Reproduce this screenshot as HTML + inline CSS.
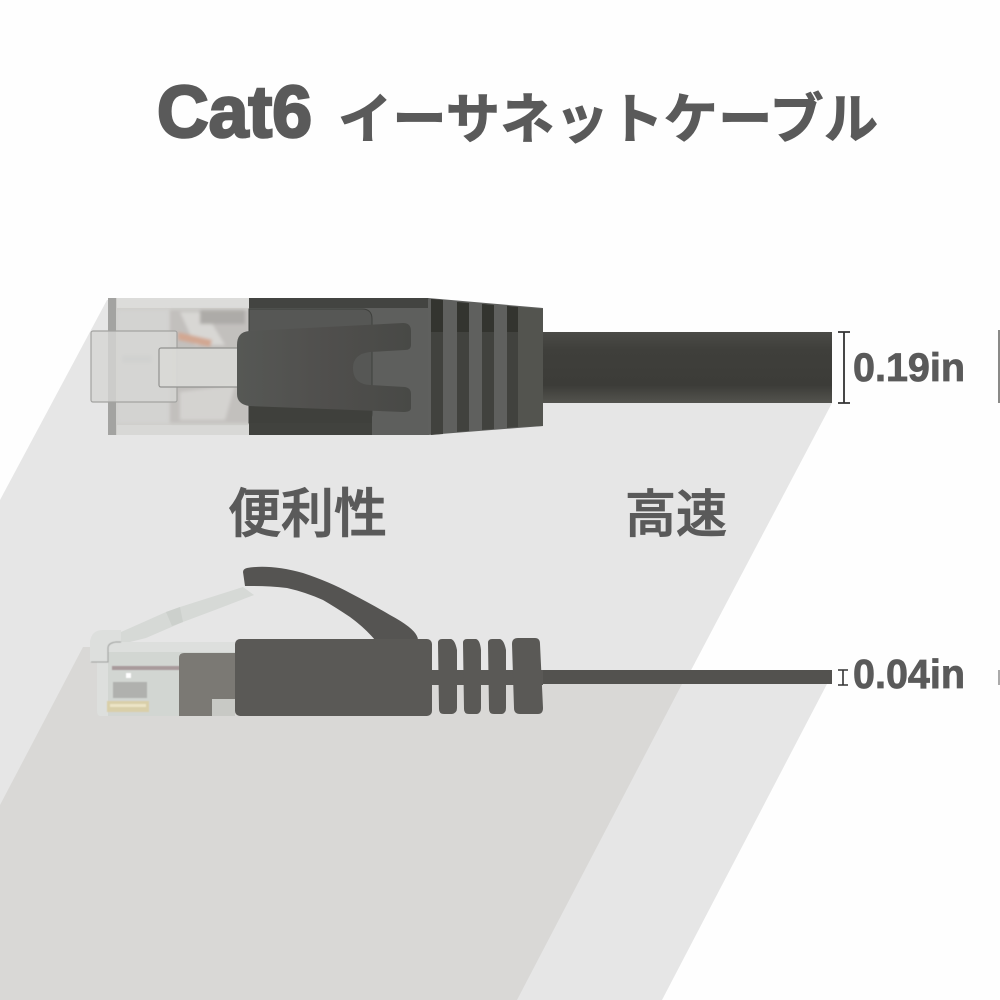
<!DOCTYPE html>
<html lang="ja"><head><meta charset="utf-8"><style>
html,body{margin:0;padding:0;background:#fff}
svg{display:block}
text{font-family:"Liberation Sans","Noto Sans CJK JP",sans-serif;fill:#5a5a5a}
</style></head><body>
<svg xmlns="http://www.w3.org/2000/svg" width="1000" height="1000" viewBox="0 0 1000 1000">
<defs>
<linearGradient id="cab" x1="0" y1="0" x2="0" y2="1"><stop offset="0" stop-color="#4b4b47"/><stop offset=".25" stop-color="#3f3f3b"/><stop offset=".75" stop-color="#3c3c38"/><stop offset="1" stop-color="#53534e"/></linearGradient>
<linearGradient id="lat" x1="0" y1="0" x2="1" y2="0"><stop offset="0" stop-color="#565855"/><stop offset=".5" stop-color="#504f4d"/><stop offset="1" stop-color="#484946"/></linearGradient>
<filter id="b1"><feGaussianBlur stdDeviation="1.6"/></filter>
<filter id="b0"><feGaussianBlur stdDeviation=".5"/></filter>
</defs>
<rect width="1000" height="1000" fill="#fefefe"/>
<polygon points="107,300 420,300 420,403 832,403 517,1000 0,1000 0,500" fill="#e6e6e6"/>
<polygon points="83,647 110,647 110,684 827,684 662,1000 0,1000 0,805" fill="#e6e6e6"/>
<polygon points="83,647 110,647 110,684 682,684 517,1000 0,1000 0,805" fill="#d9d8d6"/>
<rect x="998" y="330" width="2" height="73" fill="#8a8a88"/>
<rect x="998" y="670" width="2" height="15" fill="#aaa"/>

<!-- title -->
<text x="157" y="137" font-size="73" font-weight="700" stroke="#5a5a5a" stroke-width="2.6" textLength="155" lengthAdjust="spacingAndGlyphs">Cat6</text>
<text x="338" y="138" font-size="54" font-weight="700" stroke="#5a5a5a" stroke-width="1" textLength="540" lengthAdjust="spacing">イーサネットケーブル</text>
<text x="228" y="532" font-size="53" font-weight="500" stroke="#5a5a5a" stroke-width="1" textLength="159" lengthAdjust="spacing">便利性</text>
<text x="625" y="532" font-size="51" font-weight="500" stroke="#5a5a5a" stroke-width="1" textLength="102" lengthAdjust="spacing">高速</text>

<!-- top cable -->
<rect x="540" y="332" width="292" height="71" fill="url(#cab)"/>
<!-- clear plug top -->
<rect x="108" y="298" width="142" height="137" fill="#cfcecb"/>
<rect x="117" y="298" width="133" height="10" fill="#dcdcda"/>
<rect x="117" y="425" width="133" height="10" fill="#d8d8d6"/>
<g filter="url(#b1)">
<rect x="117" y="310" width="52" height="113" fill="#d3d3d1"/>
<rect x="170" y="310" width="79" height="113" fill="#c2c0bd"/>
<polygon points="180,312 205,312 225,345 195,345" fill="#d8d7d4"/>
<polygon points="180,392 235,385 225,420 180,420" fill="#d4d3d0"/>
<rect x="200" y="310" width="45" height="14" fill="#adaba8"/>
<polygon points="178,332 212,340 210,347 178,340" fill="#d2a792"/>
<rect x="122" y="355" width="30" height="8" fill="#b9bdc2"/>
</g>
<rect x="108" y="298" width="8" height="137" fill="#a3a3a1"/>
<rect x="91" y="331" width="86" height="71" rx="2" fill="#d5d5d3" fill-opacity=".82" stroke="#a3a3a1" stroke-width="1.2"/>
<rect x="159" y="348" width="80" height="39" rx="2" fill="#d9d9d6" fill-opacity=".92" stroke="#929290" stroke-width="1.2"/>
<!-- boot top -->
<rect x="249" y="298" width="180" height="137" fill="#5e5f5d"/>
<rect x="249" y="298" width="180" height="10" fill="#434441"/>
<path d="M249,309H362Q372,309 372,319V413Q372,423 362,423H249Z" fill="#565755" stroke="#3f403d" stroke-width="1"/>
<rect x="249" y="405" width="123" height="18" fill="#3f403c"/>
<path d="M249,423H372V435H249Z" fill="#41423e"/>
<polygon points="428,298 543,308 543,426 428,435" fill="#5f605e"/>
<g fill="#41423e">
<polygon points="431,299 443,300 443,434 431,435"/>
<polygon points="457,302 469,303 469,431 457,432"/>
<polygon points="482,304 494,305 494,429 482,430"/>
<polygon points="507,306 518,307 518,427 507,428"/>
</g>
<g fill="#33342f">
<polygon points="431,299 443,300 443,332 431,332"/>
<polygon points="457,302 469,303 469,332 457,332"/>
<polygon points="482,304 494,305 494,332 482,332"/>
<polygon points="507,306 518,307 518,332 507,332"/>
</g>
<path d="M518,307L543,309V426L518,427Z" fill="#53544f"/>
<path d="M237,345Q237,332 249,331L403,323Q411,323 411,331V345Q411,350 405,350L370,352Q353,354 353,368Q353,384 370,385L405,387Q411,388 411,394V408Q411,412 403,412L249,406Q237,404 237,394Z" fill="url(#lat)"/>

<!-- dim 1 -->
<path d="M844,332V403M838,332H850M838,403H850" fill="none" stroke="#333" stroke-width="1.8"/>
<text x="853" y="381" font-size="40" font-weight="700" stroke="#5a5a5a" stroke-width=".8" textLength="112" lengthAdjust="spacingAndGlyphs">0.19in</text>

<!-- bottom cable -->
<rect x="540" y="670" width="292" height="14" fill="#53524f"/>
<path d="M843,670V685M838,685H848M838,670H848" fill="none" stroke="#333" stroke-width="1.6"/>
<text x="853" y="688" font-size="41" font-weight="700" stroke="#5a5a5a" stroke-width=".8" textLength="112" lengthAdjust="spacingAndGlyphs">0.04in</text>

<!-- clear plug bottom -->
<path d="M90,641Q92,630 103,630H121V642H235V716H100Q97,716 97,710V662H90Z" fill="#dddfdd"/>
<rect x="108" y="652" width="127" height="64" fill="#cfd3d0" opacity=".8"/>
<polygon points="121,632 166,612 180,607 243,587 254,595 215,610 183,622 146,638 130,642 121,642" fill="#d6d9d6"/>
<polygon points="166,612 180,607 183,622 172,626" fill="#ccd0cc"/>
<g filter="url(#b0)">
<path d="M91,662H108V648Q108,643 116,642H121" fill="none" stroke="#9ea09e" stroke-width="1"/>
<rect x="112" y="666" width="68" height="4" fill="#a89a9b"/>
<rect x="126" y="673" width="5" height="5" fill="#fff"/>
<rect x="113" y="682" width="34" height="16" fill="#b0b1ae"/>
<rect x="107" y="701" width="42" height="11" fill="#d9cfa9"/>
<rect x="110" y="704" width="36" height="3" fill="#ece4c6"/>
</g>
<path d="M179,658Q179,653 184,653H235V716H179Z" fill="#7b7974"/>
<rect x="212" y="699" width="23" height="17" fill="#c8c9c5"/>
<!-- body bottom -->
<path d="M243,572Q243,569 247,568Q270,564 303,573Q330,582 350,593Q375,606 390,615Q418,630 418,640H375Q365,628 350,617Q335,607 323,600Q305,592 287,588Q270,586 253,586H245Z" fill="#555452"/>
<rect x="235" y="639" width="197" height="77" rx="5" fill="#5a5956"/>
<rect x="428" y="670" width="115" height="15" fill="#5a5956"/>
<g fill="#5a5956">
<path d="M438,643Q438,639 442,639H451Q455,640 457,650V708Q457,713 452,714H444Q439,714 439,709Z"/>
<path d="M463,643Q463,639 467,639H476Q480,640 481,650V708Q481,713 477,714H469Q464,714 464,709Z"/>
<path d="M488,643Q488,639 492,639H500Q504,640 506,650V708Q506,713 502,714H494Q489,714 489,709Z"/>
<path d="M512,644Q512,638 518,638H535Q540,638 540,644L543,708Q543,714 538,714H520Q514,714 514,708Z"/>
</g>
</svg>
</body></html>
